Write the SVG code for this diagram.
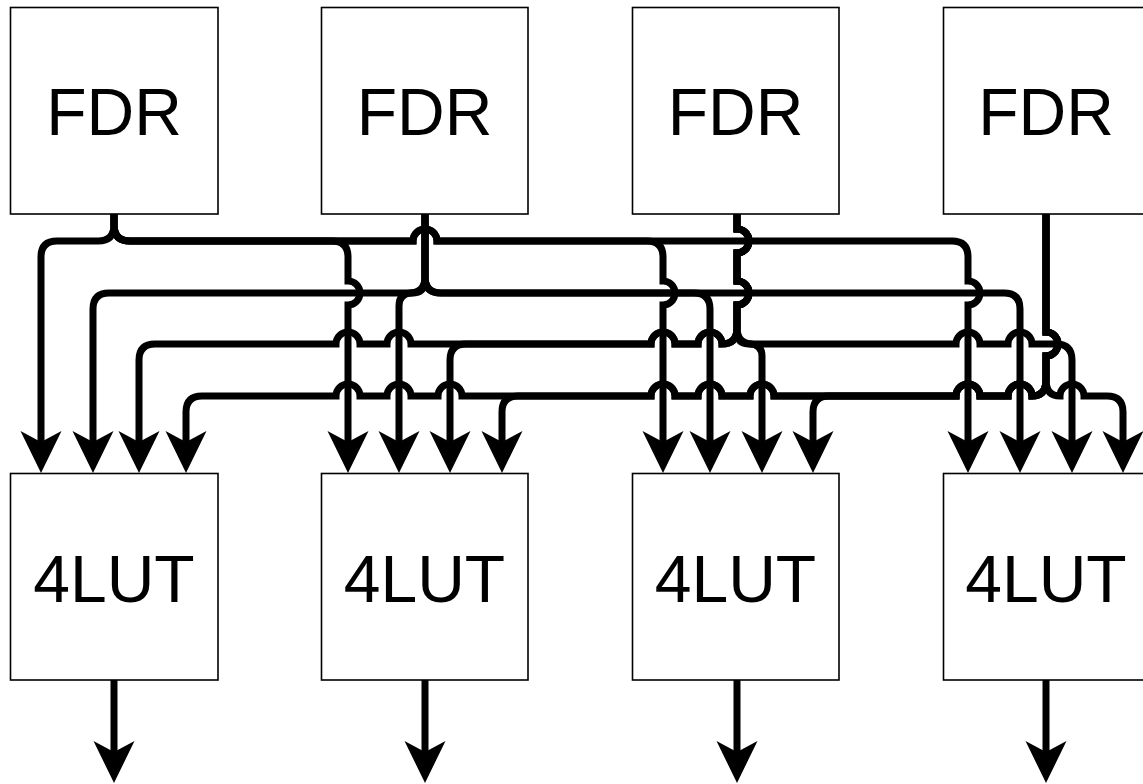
<svg xmlns="http://www.w3.org/2000/svg" width="1143" height="784" viewBox="0 0 1143 784">
<style>
.box{fill:#fff;stroke:#000;stroke-width:1.6}
.t{font-family:"Liberation Sans",Arial,Helvetica,sans-serif;font-size:66px;text-anchor:middle;fill:#000}
.w{fill:none;stroke:#000;stroke-width:7;marker-end:url(#ah)}
</style>
<defs>
<marker id="ah" viewBox="0 0 42 42" refX="11" refY="21" markerWidth="42" markerHeight="42" markerUnits="userSpaceOnUse" orient="auto"><path d="M0,0.5 L42,21 L0,41.5 L11,21 Z" fill="#000"/></marker>
</defs>
<rect width="1143" height="784" fill="#fff"/>
<g id="fdr1"><rect class="box" x="10.5" y="7.5" width="207.5" height="206.5"/><text class="t" x="114" y="135">FDR</text></g>
<g id="fdr2"><rect class="box" x="321.5" y="7.5" width="206.5" height="206.5"/><text class="t" x="424.5" y="135">FDR</text></g>
<g id="fdr3"><rect class="box" x="632.5" y="7.5" width="206.5" height="206.5"/><text class="t" x="735.5" y="135">FDR</text></g>
<g id="fdr4"><rect class="box" x="943.5" y="7.5" width="206.5" height="206.5"/><text class="t" x="1046" y="135">FDR</text></g>
<g id="lut1"><rect class="box" x="10.5" y="473.5" width="207.5" height="206.5"/><text class="t" x="114" y="602">4LUT</text></g>
<g id="lut2"><rect class="box" x="321.5" y="473.5" width="206.5" height="206.5"/><text class="t" x="424.5" y="602">4LUT</text></g>
<g id="lut3"><rect class="box" x="632.5" y="473.5" width="206.5" height="206.5"/><text class="t" x="735.5" y="602">4LUT</text></g>
<g id="lut4"><rect class="box" x="943.5" y="473.5" width="206.5" height="206.5"/><text class="t" x="1046" y="602">4LUT</text></g>
<g id="connectors">
<path class="w" d="M114,214 V225 Q114,241 98,241 H57 Q41,241 41,257 V442"/>
<path class="w" d="M114,214 V225 Q114,241 130,241 H332 Q348,241 348,257 V281 A12,12 0 0 1 348,305 V442"/>
<path class="w" d="M114,214 V225 Q114,241 130,241 H413 A12,12 0 0 1 437,241 H647 Q663,241 663,257 V281 A12,12 0 0 1 663,305 V442"/>
<path class="w" d="M114,214 V225 Q114,241 130,241 H413 A12,12 0 0 1 437,241 H952 Q968,241 968,257 V281 A12,12 0 0 1 968,305 V442"/>
<path class="w" d="M425,214 V277 Q425,293 409,293 H109 Q93,293 93,309 V442"/>
<path class="w" d="M425,214 V280 Q425,293 412,293 Q399,293 399,306 V442"/>
<path class="w" d="M425,214 V277 Q425,293 441,293 H694 Q710,293 710,309 V442"/>
<path class="w" d="M425,214 V277 Q425,293 441,293 H1004 Q1020,293 1020,309 V442"/>
<path class="w" d="M737,214 V229 A12,12 0 0 1 737,253 V281 A12,12 0 0 1 737,305 V328 Q737,344 722,344 A12,12 0 0 0 698,344 H675 A12,12 0 0 0 651,344 H411 A12,12 0 0 0 387,344 H360 A12,12 0 0 0 336,344 H155 Q139,344 139,360 V442"/>
<path class="w" d="M737,214 V229 A12,12 0 0 1 737,253 V281 A12,12 0 0 1 737,305 V328 Q737,344 722,344 A12,12 0 0 0 698,344 H675 A12,12 0 0 0 651,344 H466 Q450,344 450,360 V442"/>
<path class="w" d="M737,214 V229 A12,12 0 0 1 737,253 V281 A12,12 0 0 1 737,305 V331.5 Q737,344 749.5,344 Q762,344 762,356.5 V442"/>
<path class="w" d="M737,214 V229 A12,12 0 0 1 737,253 V281 A12,12 0 0 1 737,305 V328 Q737,344 753,344 H956 A12,12 0 0 1 980,344 H1008 A12,12 0 0 1 1032,344 H1056 Q1072,344 1072,360 V442"/>
<path class="w" d="M1046,214 V332 A12,12 0 0 1 1046,356 V380 Q1046,396 1032,396 A12,12 0 0 0 1008,396 H980 A12,12 0 0 0 956,396 H774 A12,12 0 0 0 750,396 H722 A12,12 0 0 0 698,396 H675 A12,12 0 0 0 651,396 H462 A12,12 0 0 0 438,396 H411 A12,12 0 0 0 387,396 H360 A12,12 0 0 0 336,396 H202 Q186,396 186,412 V442"/>
<path class="w" d="M1046,214 V332 A12,12 0 0 1 1046,356 V380 Q1046,396 1032,396 A12,12 0 0 0 1008,396 H980 A12,12 0 0 0 956,396 H774 A12,12 0 0 0 750,396 H722 A12,12 0 0 0 698,396 H675 A12,12 0 0 0 651,396 H518 Q502,396 502,412 V442"/>
<path class="w" d="M1046,214 V332 A12,12 0 0 1 1046,356 V380 Q1046,396 1032,396 A12,12 0 0 0 1008,396 H980 A12,12 0 0 0 956,396 H829 Q813,396 813,412 V442"/>
<path class="w" d="M1046,214 V332 A12,12 0 0 1 1046,356 V380 Q1046,396 1060,396 A12,12 0 0 1 1084,396 H1107 Q1123,396 1123,412 V442"/>
<path class="w" d="M114,680 V752"/>
<path class="w" d="M425,680 V752"/>
<path class="w" d="M737,680 V752"/>
<path class="w" d="M1046,680 V752"/>
</g>
</svg>
